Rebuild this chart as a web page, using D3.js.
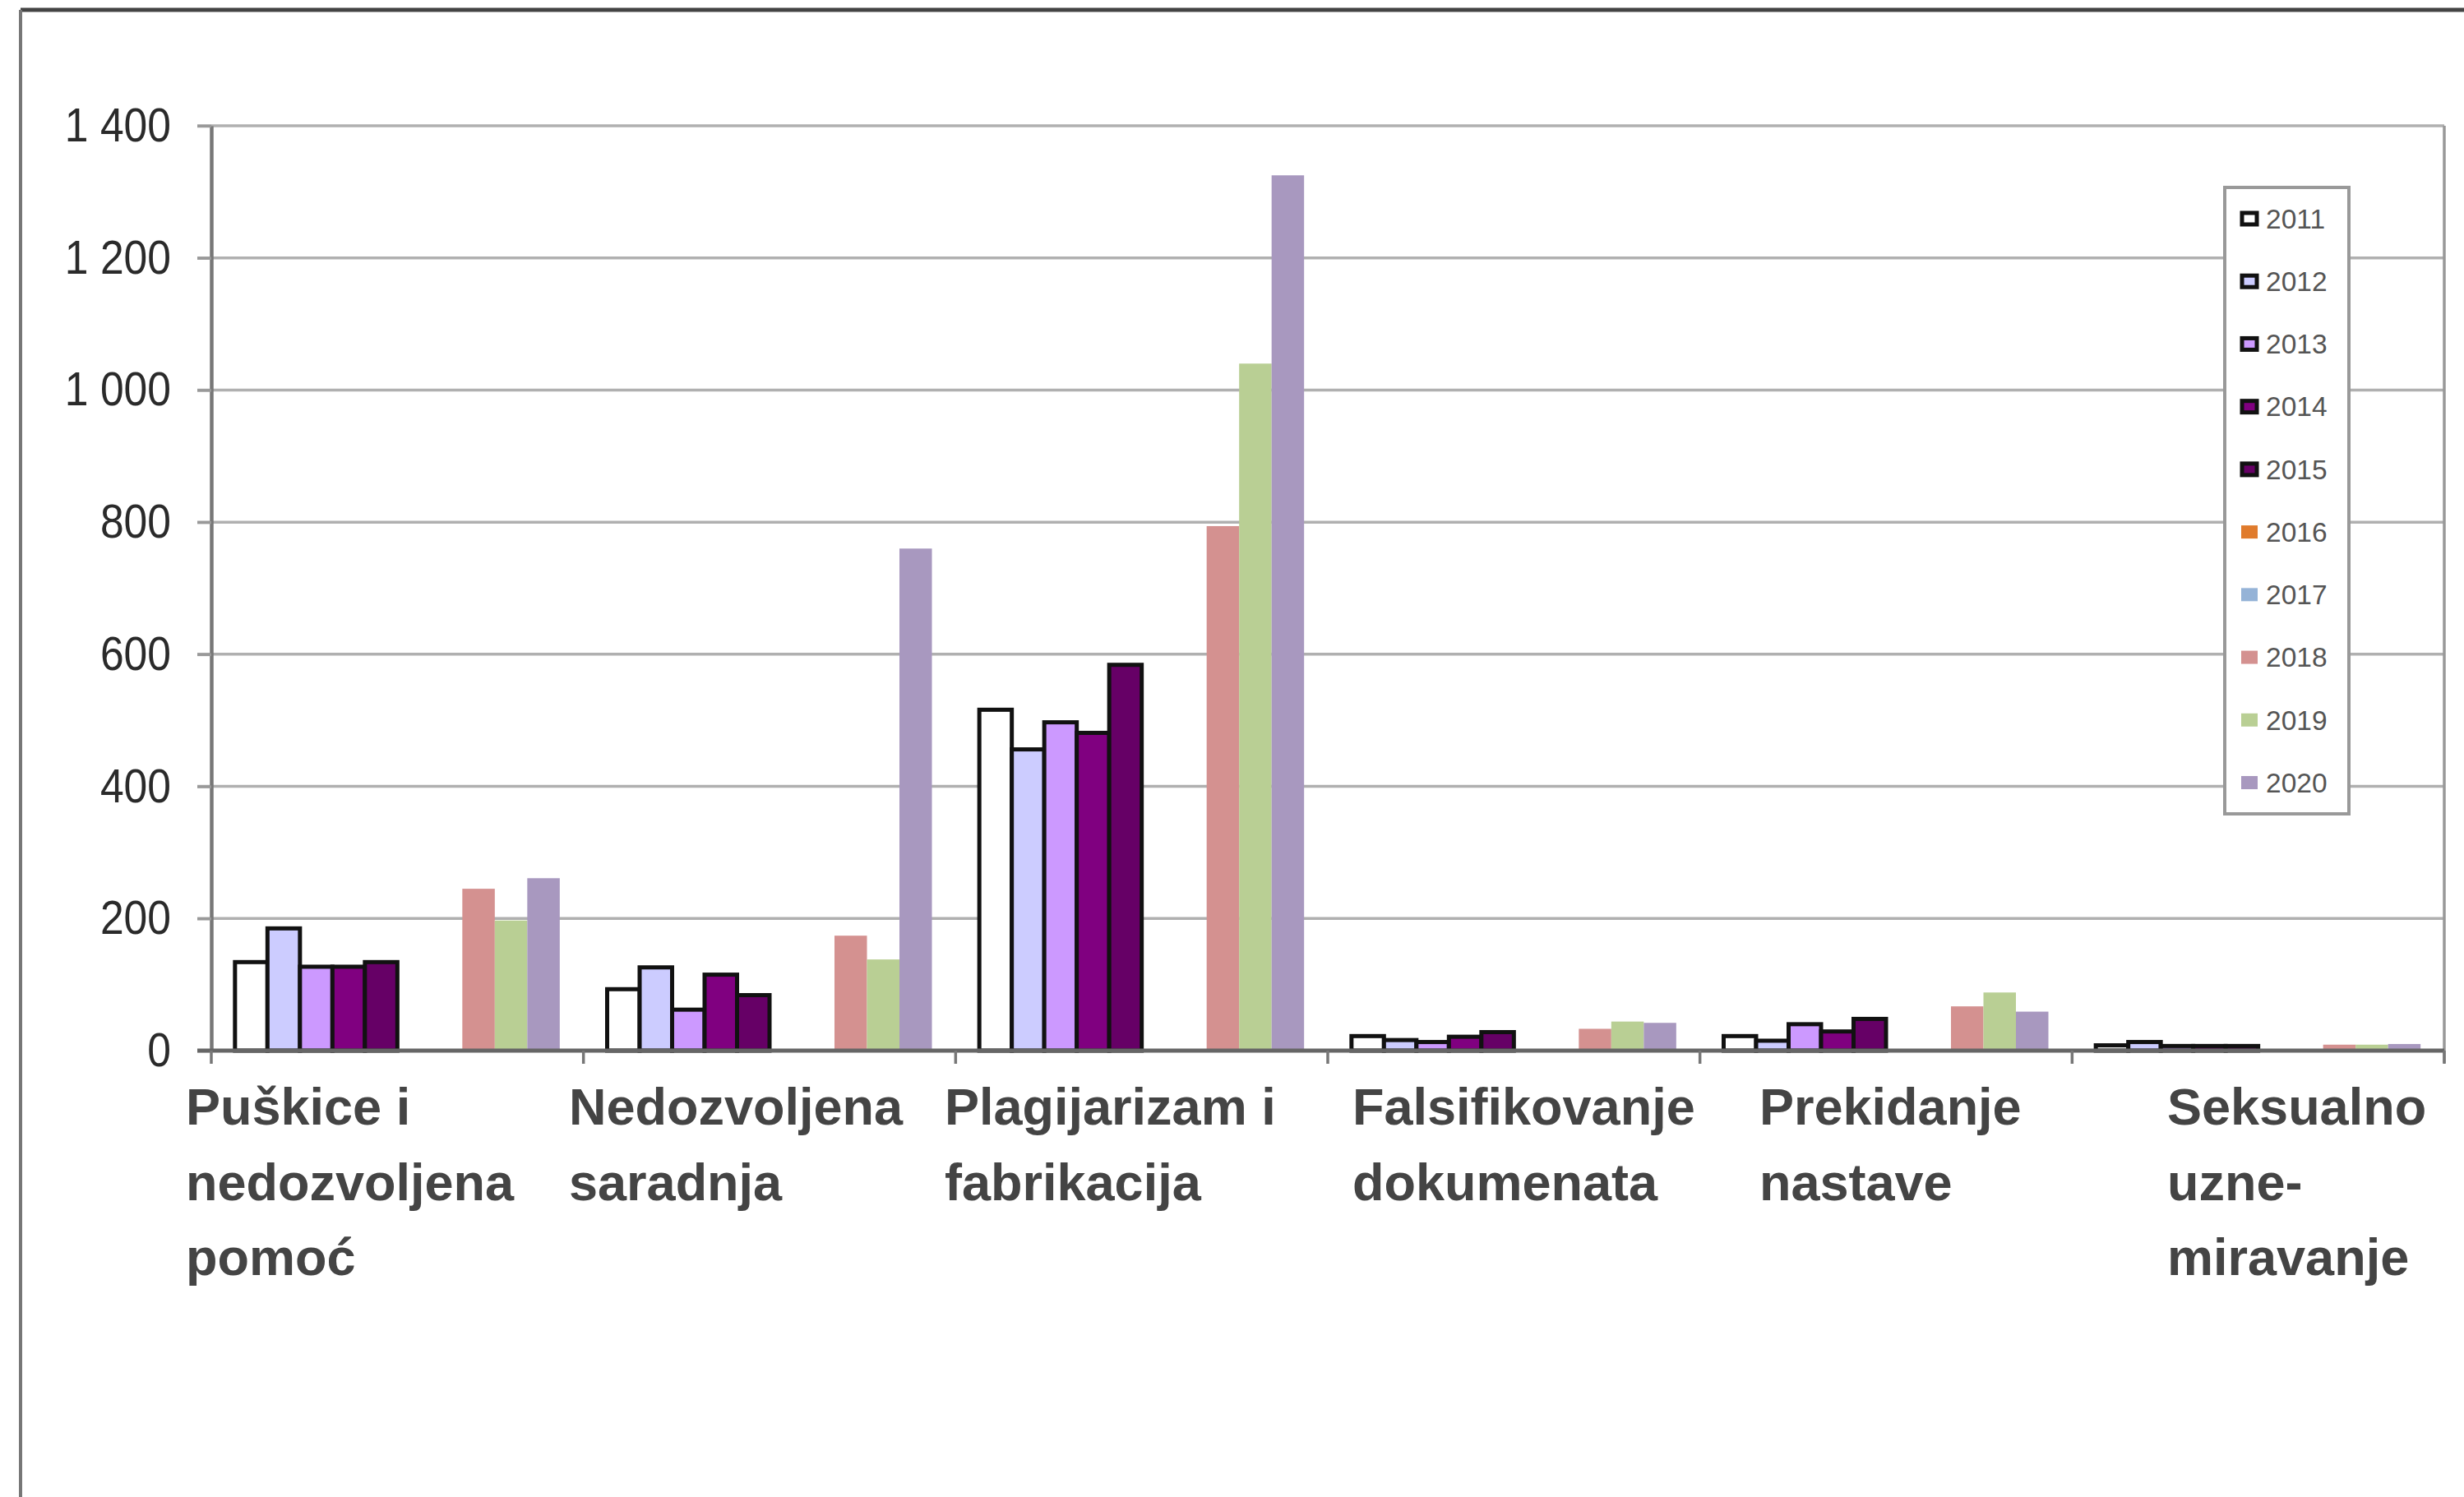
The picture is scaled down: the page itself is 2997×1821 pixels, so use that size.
<!DOCTYPE html>
<html>
<head>
<meta charset="utf-8">
<script src="https://cdn.jsdelivr.net/npm/d3@7"></script>
<style>
  body { margin: 0; background: #fff; }
  svg { display: block; font-family: "Liberation Sans", Arial, sans-serif; }
</style>
</head>
<body>
<svg id="chart" width="2997" height="1821"></svg>
<script>
// categories (x axis), wrapped into lines like in the original
const categories = ['Puškice i nedozvoljena pomoć', 'Nedozvoljena saradnja', 'Plagijarizam i fabrikacija',
  'Falsifikovanje dokumenata', 'Prekidanje nastave', 'Seksualno uznemiravanje'];
const categoryLines = [
  ['Puškice i', 'nedozvoljena', 'pomoć'],
  ['Nedozvoljena', 'saradnja'],
  ['Plagijarizam i', 'fabrikacija'],
  ['Falsifikovanje', 'dokumenata'],
  ['Prekidanje', 'nastave'],
  ['Seksualno', 'uzne-', 'miravanje']
];

const years = ['2011', '2012', '2013', '2014', '2015', '2016', '2017', '2018', '2019', '2020'];

// one array per year, same order as categories (2016 and 2017 have no bars)
const v2011 = [134, 93, 516, 22, 22, 8];
const v2012 = [185, 126, 456, 16, 15, 13];
const v2013 = [127, 62, 497, 13, 40, 7];
const v2014 = [127, 115, 481, 21, 29, 7];
const v2015 = [134, 84, 584, 28, 48, 7];
const v2016 = [null, null, null, null, null, null];
const v2017 = [null, null, null, null, null, null];
const v2018 = [245, 174, 794, 33, 67, 9];
const v2019 = [197, 138, 1040, 44, 88, 9];
const v2020 = [261, 760, 1325, 42, 59, 10];

const yTicks = [0, 200, 400, 600, 800, 1000, 1200, 1400];

const seriesColors = ['#ffffff', '#ccccff', '#cc99ff', '#800080', '#660066',
  '#e07b2c', '#95b3d7', '#d49190', '#b9cf94', '#a898bf'];
const bordered = ['2011', '2012', '2013', '2014', '2015'];

// left edge of each category label block
const labelLeft = [226, 692, 1149, 1645, 2140, 2636];

const allValues = [v2011, v2012, v2013, v2014, v2015, v2016, v2017, v2018, v2019, v2020];

const svg = d3.select('#chart');
const plotLeft = 257, plotRight = 2973, plotTop = 153, plotBottom = 1278;

const x0 = d3.scaleBand().domain(categories).range([plotLeft, plotRight]).padding(0);
const x1 = d3.scaleBand().domain(years).range([0, x0.bandwidth()]).paddingInner(0).paddingOuter(0.73);
const y = d3.scaleLinear().domain([0, 1400]).range([plotBottom, plotTop]);
const color = d3.scaleOrdinal().domain(years).range(seriesColors);

const fmt = d3.formatLocale({ decimal: ',', thousands: ' ', grouping: [3], currency: ['', ''] }).format(',');

// outer frame (top and left edges only show)
svg.append('line').attr('x1', 25).attr('x2', 2997).attr('y1', 12).attr('y2', 12)
  .attr('stroke', '#444').attr('stroke-width', 5);
svg.append('line').attr('x1', 25).attr('x2', 25).attr('y1', 12).attr('y2', 1821)
  .attr('stroke', '#777').attr('stroke-width', 4);

// horizontal gridlines
svg.append('g')
  .selectAll('line')
  .data(yTicks.filter(d => d > 0))
  .join('line')
  .attr('x1', plotLeft - 17)
  .attr('x2', plotRight)
  .attr('y1', d => y(d))
  .attr('y2', d => y(d))
  .attr('stroke', '#b0b0b0')
  .attr('stroke-width', 3.5);

// right edge of plot area
svg.append('line').attr('x1', plotRight).attr('x2', plotRight).attr('y1', plotTop).attr('y2', plotBottom + 15)
  .attr('stroke', '#999').attr('stroke-width', 3.5);

// bars
const groups = svg.append('g')
  .selectAll('g')
  .data(categories)
  .join('g')
  .attr('transform', d => 'translate(' + x0(d) + ',0)');

groups.selectAll('rect')
  .data((c, i) => years.map((yr, k) => ({ year: yr, value: allValues[k][i] })).filter(d => d.value != null))
  .join('rect')
  .attr('x', d => x1(d.year))
  .attr('y', d => y(d.value))
  .attr('width', x1.bandwidth())
  .attr('height', d => y(0) - y(d.value))
  .attr('fill', d => color(d.year))
  .attr('stroke', d => bordered.includes(d.year) ? '#111' : 'none')
  .attr('stroke-width', 5);

// y axis
const yAxis = svg.append('g')
  .attr('transform', 'translate(' + plotLeft + ',0)')
  .call(d3.axisLeft(y).tickValues(yTicks).tickFormat(fmt).tickSizeInner(17).tickSizeOuter(0));
yAxis.select('.domain').attr('stroke', '#777').attr('stroke-width', 4.5);
yAxis.selectAll('.tick line').attr('stroke', '#999').attr('stroke-width', 3.5);
yAxis.selectAll('.tick text')
  .attr('x', 0)
  .attr('transform', 'translate(-49,0) scale(0.89,1)')
  .attr('fill', '#2a2a2a')
  .style('font-size', '58px');

// x axis line and boundary ticks
const bounds = categories.map(c => x0(c)).concat([x0(categories[categories.length - 1]) + x0.bandwidth()]);
svg.append('line').attr('x1', plotLeft - 17).attr('x2', plotRight).attr('y1', y(0)).attr('y2', y(0))
  .attr('stroke', '#666').attr('stroke-width', 5);
svg.append('g')
  .selectAll('line')
  .data(bounds)
  .join('line')
  .attr('x1', d => d).attr('x2', d => d)
  .attr('y1', y(0)).attr('y2', y(0) + 16)
  .attr('stroke', '#777').attr('stroke-width', 3.5);

// category labels
const labels = svg.append('g')
  .selectAll('text')
  .data(categoryLines)
  .join('text')
  .attr('x', (d, i) => labelLeft[i])
  .attr('y', 1368)
  .attr('fill', '#444')
  .style('font-size', '63px')
  .style('font-weight', 'bold');
labels.selectAll('tspan')
  .data(d => d)
  .join('tspan')
  .attr('x', function () { return this.parentNode.getAttribute('x'); })
  .attr('dy', (d, i) => i === 0 ? 0 : 91.5)
  .text(d => d);

// legend
const ly = d3.scalePoint().domain(years).range([266, 952]);
svg.append('rect').attr('x', 2706).attr('y', 228).attr('width', 151).attr('height', 762)
  .attr('fill', '#fff').attr('stroke', '#999').attr('stroke-width', 4);
const items = svg.append('g')
  .selectAll('g')
  .data(years)
  .join('g')
  .attr('transform', d => 'translate(2727,' + ly(d) + ')');
items.append('rect')
  .attr('x', d => bordered.includes(d) ? 0 : -1)
  .attr('y', d => bordered.includes(d) ? -7 : -8)
  .attr('width', d => bordered.includes(d) ? 18 : 20)
  .attr('height', d => bordered.includes(d) ? 14 : 16)
  .attr('fill', d => color(d))
  .attr('stroke', d => bordered.includes(d) ? '#111' : 'none')
  .attr('stroke-width', 5);
items.append('text')
  .attr('x', 29)
  .attr('dy', '0.35em')
  .attr('fill', '#555')
  .style('font-size', '33.5px')
  .text(d => d);
</script>
</body>
</html>
